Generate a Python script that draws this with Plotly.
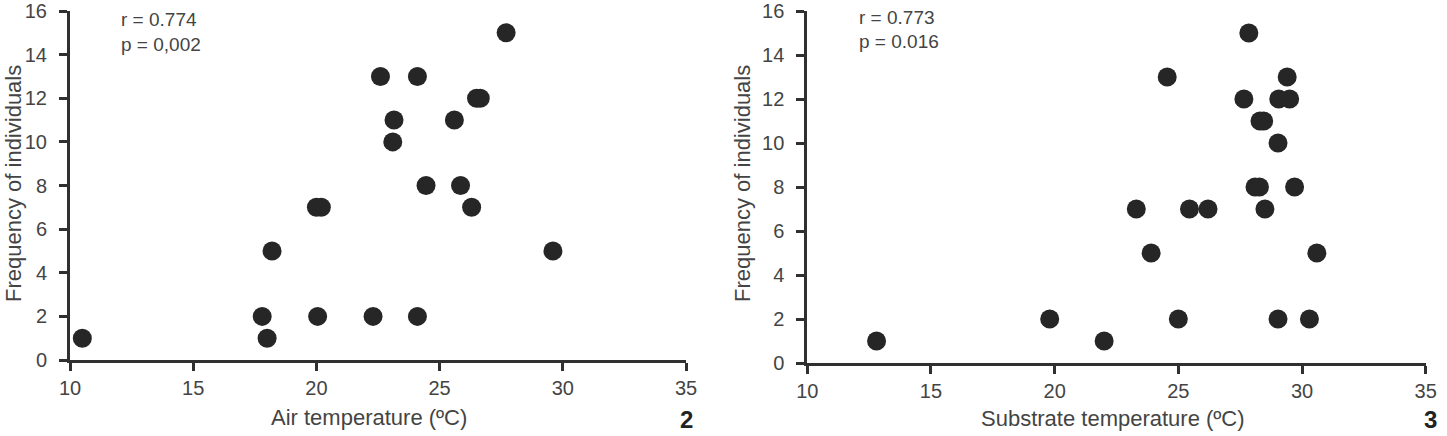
import plotly.graph_objects as go

# Panel 2: air temperature vs frequency
air_temp = [10.5, 17.8, 18.0, 18.2, 20.0, 20.2, 20.05, 22.3, 22.6, 23.1, 23.15,
            24.1, 24.1, 24.45, 25.6, 25.85, 26.3, 26.5, 26.65, 27.7, 29.6]
air_freq = [1, 2, 1, 5, 7, 7, 2, 2, 13, 10, 11,
            13, 2, 8, 11, 8, 7, 12, 12, 15, 5]

# Panel 3: substrate temperature vs frequency
sub_temp = [12.8, 19.8, 22.0, 23.3, 23.9, 24.55, 25.0, 25.45, 26.2, 27.65,
            27.85, 28.1, 28.28, 28.3, 28.45, 28.5, 29.03, 29.03, 29.06, 29.4,
            29.5, 29.7, 30.3, 30.6]
sub_freq = [1, 2, 1, 7, 5, 13, 2, 7, 7, 12,
            15, 8, 8, 11, 11, 7, 10, 2, 12, 13,
            12, 8, 2, 5]

x_ticks = [10, 15, 20, 25, 30, 35]
y_ticks = [0, 2, 4, 6, 8, 10, 12, 14, 16]

stats_left = ["r = 0.774", "p = 0,002"]
stats_right = ["r = 0.773", "p = 0.016"]
x_titles = ["Air temperature (ºC)", "Substrate temperature (ºC)"]
y_title = "Frequency of individuals"
panel_labels = ["2", "3"]

W, H = 1447, 436
def px(x):
    return x / W
def py(y):
    return 1 - y / H

FONT = "Liberation Sans, Arial, Helvetica, sans-serif"
TXT = "#444444"
DOT = "#262626"
AX = "#303030"

fig = go.Figure()
fig.add_trace(go.Scatter(x=air_temp, y=air_freq, mode="markers", xaxis="x", yaxis="y",
                         marker=dict(size=19, color=DOT), showlegend=False, cliponaxis=False))
fig.add_trace(go.Scatter(x=sub_temp, y=sub_freq, mode="markers", xaxis="x2", yaxis="y2",
                         marker=dict(size=19, color=DOT), showlegend=False, cliponaxis=False))

axis_common = dict(showgrid=False, zeroline=False, showline=True, linecolor=AX, linewidth=3,
                   ticks="outside", ticklen=8, tickwidth=2.5, tickcolor=AX,
                   tickfont=dict(family=FONT, size=20, color=TXT), automargin=False,
                   ticklabeloverflow="allow")

fig.update_layout(
    width=W, height=H,
    margin=dict(l=0, r=0, t=0, b=0),
    paper_bgcolor="white", plot_bgcolor="white",
    xaxis=dict(domain=[px(70), px(686)], range=[10, 35], tickvals=x_ticks, anchor="y", **axis_common),
    yaxis=dict(domain=[py(360), py(11)], range=[0, 16], tickvals=y_ticks, anchor="x",
               ticklabelstandoff=8, **axis_common),
    xaxis2=dict(domain=[px(807.3), px(1425.7)], range=[10, 35], tickvals=x_ticks, anchor="y2", **axis_common),
    yaxis2=dict(domain=[py(363), py(11)], range=[0, 16], tickvals=y_ticks, anchor="x2",
                ticklabelstandoff=8, **axis_common),
)

ann = []
def add_text(text, x, y, size, xanchor="left", yanchor="middle", angle=0, bold=False, color=TXT):
    ann.append(dict(text=("<b>%s</b>" % text) if bold else text, x=px(x), y=py(y),
                    xref="paper", yref="paper", xanchor=xanchor, yanchor=yanchor,
                    showarrow=False, textangle=angle,
                    font=dict(family=FONT, size=size, color=color)))

add_text(stats_left[0], 119, 20, 19)
add_text(stats_left[1], 119, 44, 19)
add_text(stats_right[0], 857, 18, 19)
add_text(stats_right[1], 857, 42, 19)
add_text(x_titles[0], 369, 417, 22, xanchor="center")
add_text(x_titles[1], 1113, 418, 22, xanchor="center")
add_text(y_title, 13, 184, 22, xanchor="center", angle=-90)
add_text(y_title, 742, 184, 22, xanchor="center", angle=-90)
add_text(panel_labels[0], 686, 435, 24, xanchor="center", yanchor="bottom", bold=True, color="#222222")
add_text(panel_labels[1], 1430, 435, 24, xanchor="center", yanchor="bottom", bold=True, color="#222222")
fig.update_layout(annotations=ann)

fig.write_html("out.html")
